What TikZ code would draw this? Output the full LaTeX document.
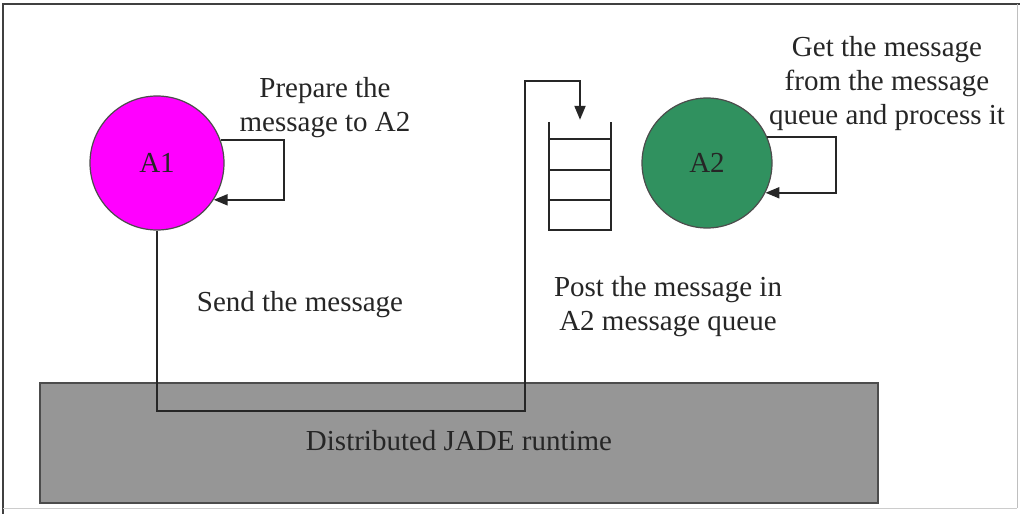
\documentclass[tikz,border=0pt]{standalone}
\usepackage{fontspec}
\setmainfont{Liberation Serif}
\usetikzlibrary{arrows.meta}
\definecolor{agentgreen}{RGB}{48,145,95}
\definecolor{agentmagenta}{RGB}{255,0,255}
\definecolor{rtgray}{RGB}{150,150,150}
\begin{document}
\begin{tikzpicture}[x=1pt,y=-1pt,
  wire/.style={line width=2pt, draw=black!85},
  arr/.style={wire,-{Triangle[length=14pt,width=11pt]}},
  lbl/.style={font=\fontsize{29}{34}\selectfont, align=center, inner sep=0pt, text=black!85},
  agent/.style={circle, draw=black!70, line width=1.2pt, minimum size=134pt, inner sep=0pt, font=\fontsize{29}{34}\selectfont, text=black!85}]
\useasboundingbox (0,0) rectangle (1024,516);
\fill[white] (0,0) rectangle (1024,516);
% frame
\draw[black!75, line width=2.5pt] (2,4) -- (1020,4);
\draw[black!75, line width=1.5pt] (3,4) -- (3,514);
\draw[black!25, line width=1pt] (1017,4) -- (1017,508);
\draw[black!20, line width=1pt] (3,508) -- (1017,508);
% runtime box
\node[draw=black!70, fill=rtgray, line width=1.5pt, minimum width=838pt, minimum height=120pt, inner sep=0pt] (rt) at (459,443) {};
\node[lbl] (rtl) at (459,441) {Distributed JADE runtime};
% agents
\node[agent, fill=agentmagenta] (a1) at (157,163) {A1};
\node[agent, fill=agentgreen, minimum size=130pt] (a2) at (707,163) {A2};
% queue
\node[minimum width=62pt, minimum height=108pt, inner sep=0pt] (q) at (580,176) {};
\draw[wire] (q.north west) -- (q.south west) -- (q.south east) -- (q.north east);
\draw[wire] (q.west |- 0,139) -- (q.east |- 0,139);
\draw[wire] (q.west |- 0,170) -- (q.east |- 0,170);
\draw[wire] (q.west |- 0,200) -- (q.east |- 0,200);
% send wire
\coordinate (c1) at (157,411);
\coordinate (c2) at (525,411);
\coordinate (c3) at (525,81);
\coordinate (c4) at (580,81);
\draw[arr, shorten >=2pt] (a1.south) -- (c1) -- (c2) -- (c3) -- (c4) -- (q.north);
% self loops
\draw[arr] (a1.20) -- (a1.20 -| 284,0) -- (a1.-33 -| 284,0) -- (a1.-33);
\draw[arr] (a2.23) -- (a2.23 -| 836,0) -- (a2.-27 -| 836,0) -- (a2.-27);
% labels
\node[lbl] (t1) at (325,108) {Prepare the\\message to A2};
\node[lbl] (t2) at (887,84) {Get the message\\from the message\\queue and process it};
\node[lbl] (t3) at (300,305) {Send the message};
\node[lbl] (t4) at (668,307) {Post the message in\\A2 message queue};
\end{tikzpicture}
\end{document}
